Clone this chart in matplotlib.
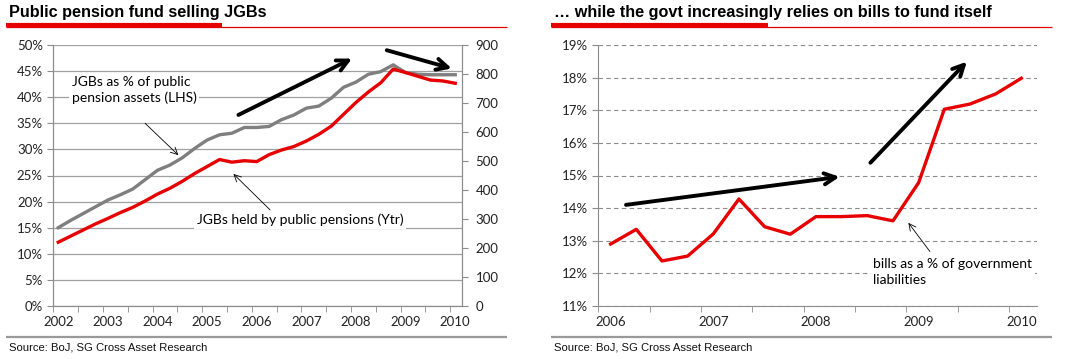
import numpy as np
import matplotlib.pyplot as plt
from matplotlib.lines import Line2D

# ---- data ----
# left panel: quarterly, 2002Q1 .. 2010Q1
jgb_pct = [15.0, 16.4, 17.7, 19.0, 20.3, 21.3, 22.4, 24.2, 26.0, 27.0, 28.4,
           30.2, 31.8, 32.8, 33.1, 34.2, 34.2, 34.4, 35.7, 36.6, 37.9, 38.3,
           39.8, 41.9, 42.9, 44.4, 44.9, 46.2, 44.7, 44.4, 44.3, 44.3, 44.3]
jgb_ytr = [220, 241, 262, 283, 302, 322, 340, 362, 386, 406, 430, 457, 481,
           505, 496, 501, 498, 522, 538, 550, 569, 592, 620, 661, 702, 738,
           770, 817, 805, 792, 779, 776, 768]
left_years = [2002 + 0.25 * i for i in range(len(jgb_pct))]

# right panel: quarterly, 2006Q1 .. 2010Q1
bills_pct = [12.90, 13.35, 12.38, 12.53, 13.21, 14.28, 13.43, 13.20, 13.74,
             13.74, 13.77, 13.61, 14.78, 17.03, 17.19, 17.50, 17.98]
right_years = [2006 + 0.25 * i for i in range(len(bills_pct))]

left_xlabels = list(range(2002, 2011))
right_xlabels = list(range(2006, 2011))

RED = '#e60000'
GREY = '#7f7f7f'
AXC = '#8c8c8c'
TICKFS = 9.5
W, H = 1091, 359

plt.rcParams['font.family'] = ['Lato', 'DejaVu Sans']
fig = plt.figure(figsize=(W / 100, H / 100), dpi=100)


def box(x0, y0, x1, y1):
    return [x0 / W, 1 - y1 / H, (x1 - x0) / W, (y1 - y0) / H]


def hline(x0, x1, y, color, lw):
    fig.add_artist(Line2D([x0 / W, x1 / W], [1 - y / H, 1 - y / H],
                          transform=fig.transFigure, color=color, lw=lw,
                          solid_capstyle='butt'))


def style_ticks(ax, years, xmin):
    ax.set_xticks(years)
    ax.set_xticklabels([str(y) for y in years])
    ax.set_xticks(np.arange(xmin, years[-1] + 0.2, 0.5), minor=True)
    ax.tick_params(axis='x', which='major', length=0, pad=7, labelsize=TICKFS,
                   labelcolor='#222222')
    ax.tick_params(axis='x', which='minor', length=4, color=AXC, direction='out')
    ax.tick_params(axis='y', length=4, color=AXC, labelsize=TICKFS,
                   labelcolor='#222222')


def thick_arrow(ax, x0, y0, x1, y1):
    ax.annotate('', xy=(x1, y1), xytext=(x0, y0),
                arrowprops=dict(arrowstyle='->,head_length=0.8,head_width=0.4',
                                color='black', lw=2.8, shrinkA=0, shrinkB=0))


def thin_arrow(ax, x0, y0, x1, y1):
    ax.annotate('', xy=(x1, y1), xytext=(x0, y0),
                arrowprops=dict(arrowstyle='->,head_length=0.5,head_width=0.25',
                                color='black', lw=0.6, shrinkA=0, shrinkB=0))


# ---- headers / footers ----
fig.text(9 / W, 1 - 12 / H, 'Public pension fund selling JGBs',
         family='Liberation Sans', weight='bold', fontsize=11.7, va='center')
fig.text(554 / W, 1 - 12 / H,
         '\u2026 while the govt increasingly relies on bills to fund itself',
         family='Liberation Sans', weight='bold', fontsize=11.7, va='center')
hline(6, 507, 26.6, RED, 0.9)
hline(6, 222, 25.3, RED, 3.0)
hline(551, 1052, 26.6, RED, 0.9)
hline(551, 768, 25.3, RED, 3.0)
hline(6, 507, 336.7, '#999999', 1.6)
hline(551, 1052, 336.7, '#999999', 1.6)
for xs in (9, 554):
    fig.text(xs / W, 1 - 347 / H, 'Source: BoJ, SG Cross Asset Research',
             family='Liberation Sans', fontsize=8.1, va='center', color='#111111')

# ---- left panel ----
ax = fig.add_axes(box(53.3, 45, 461.7, 306))
ax2 = ax.twinx()
ax.plot(left_years, jgb_pct, color=GREY, lw=2.4, zorder=3)
ax2.plot(left_years, jgb_ytr, color=RED, lw=2.4, zorder=3)
ax.set_xlim(2001.9, 2010.13)
ax.set_ylim(0, 50)
ax2.set_ylim(0, 900)
ax.set_yticks(range(0, 51, 5))
ax.set_yticklabels(['%d%%' % v for v in range(0, 51, 5)])
ax2.set_yticks(range(0, 901, 100))
ax.grid(axis='y', color='#a0a0a0', lw=0.9)
ax.set_axisbelow(True)
style_ticks(ax, left_xlabels, 2001.9)
ax2.tick_params(axis='y', length=4, color=AXC, labelsize=TICKFS,
                labelcolor='#222222', pad=6)
for a in (ax, ax2):
    a.spines['top'].set_visible(False)
    for s in ('left', 'right', 'bottom'):
        a.spines[s].set_color(AXC)

ax.text(2002.27, 41.4, 'JGBs as % of public\npension assets (LHS)', fontsize=10,
        va='center', ha='left', linespacing=1.35,
        bbox=dict(facecolor='white', edgecolor='none', pad=2), zorder=4)
ax.text(2004.79, 16.5, 'JGBs held by public pensions (Ytr)', fontsize=10,
        va='center', ha='left',
        bbox=dict(facecolor='white', edgecolor='none', pad=2), zorder=4)
thin_arrow(ax, 2003.75, 35.0, 2004.42, 28.9)
thin_arrow(ax, 2006.27, 18.4, 2005.53, 25.3)
thick_arrow(ax, 2005.63, 36.6, 2007.92, 47.4)
thick_arrow(ax, 2008.62, 49.0, 2009.93, 45.5)

# ---- right panel ----
bx = fig.add_axes(box(598.3, 45, 1036.7, 306))
bx.plot(right_years, bills_pct, color=RED, lw=2.4, zorder=3)
bx.set_xlim(2005.88, 2010.15)
bx.set_ylim(11, 19)
bx.set_yticks(range(11, 20))
bx.set_yticklabels(['%d%%' % v for v in range(11, 20)])
bx.grid(axis='y', color='#8c8c8c', lw=0.8, linestyle=(0, (4, 3)))
bx.set_axisbelow(True)
style_ticks(bx, right_xlabels, 2005.88)
for s in ('top', 'right'):
    bx.spines[s].set_visible(False)
for s in ('left', 'bottom'):
    bx.spines[s].set_color(AXC)

bx.text(2008.56, 12.04, 'bills as a % of government\nliabilities', fontsize=10,
        va='center', ha='left', linespacing=1.35,
        bbox=dict(facecolor='white', edgecolor='none', pad=2), zorder=4)
thin_arrow(bx, 2009.11, 12.67, 2008.90, 13.55)
thick_arrow(bx, 2006.15, 14.10, 2008.23, 14.96)
thick_arrow(bx, 2008.53, 15.39, 2009.47, 18.49)

fig.savefig('out.png', dpi=100)
